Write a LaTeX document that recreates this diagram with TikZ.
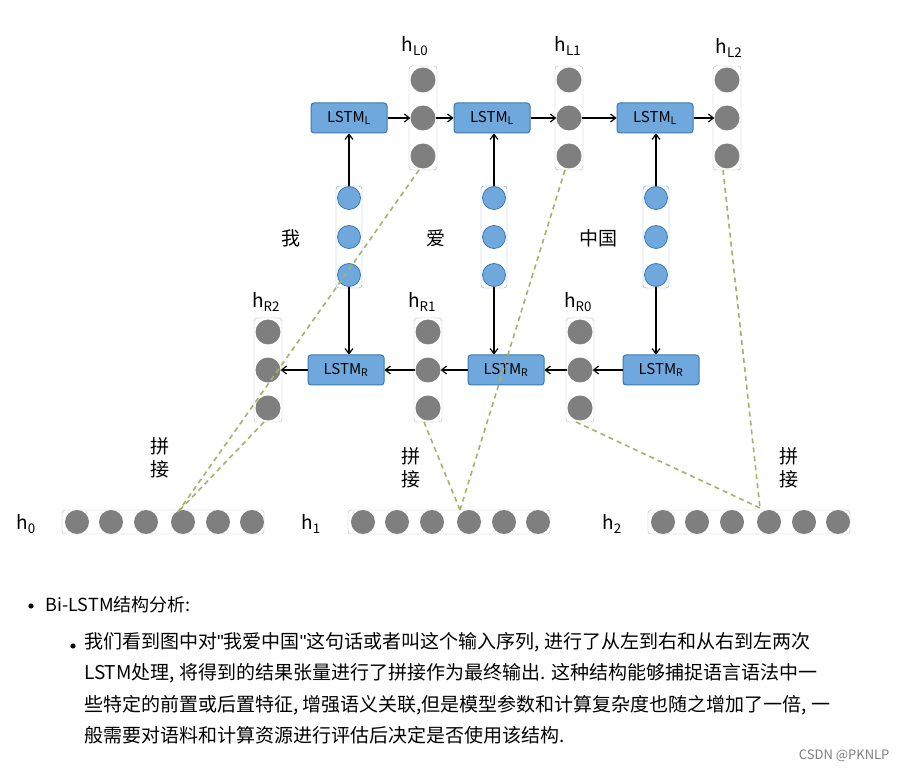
\documentclass[tikz,border=0pt]{standalone}
\usepackage{fontspec}
\setmainfont{Noto Sans CJK SC}
\newfontfamily\quotefont{Liberation Sans}
\usetikzlibrary{arrows.meta}
\definecolor{cellblue}{HTML}{6FA8DC}
\definecolor{cellline}{HTML}{3D78B0}
\definecolor{dotgray}{HTML}{7F7F7F}
\definecolor{dashgreen}{HTML}{A4B26A}
\newcommand{\dq}{{\quotefont\symbol{34}}}
\tikzset{
  lstm/.style={draw=cellline,fill=cellblue,rounded corners=3pt,line width=1pt,minimum width=76pt,minimum height=30pt,font=\fontsize{15}{15}\selectfont},
  gdot/.style={circle,fill=dotgray,minimum size=25pt,inner sep=0pt},
  bdot/.style={circle,fill=cellblue,draw=cellline,line width=0.8pt,minimum size=23pt,inner sep=0pt},
  vbox/.style={draw=gray!60,rounded corners=3pt},
  link/.style={-{Straight Barb[length=5pt,width=8pt]},line width=1.2pt},
  concat/.style={dashgreen,line width=1.6pt,dash pattern=on 5pt off 4pt},
  lab/.style={font=\fontsize{19}{19}\selectfont}
}
\begin{document}
\begin{tikzpicture}[x=1pt,y=-1pt]
	\fill[white] (0,0) rectangle (898,770);
	\useasboundingbox (0,0) rectangle (898,770);

	% vertical vectors
	\foreach \nm/\x/\y in {hlz/423/118,hlo/569/118,hlt/727/118,hrt/268/370,hro/428/370,hrz/580/370}{
		\draw[vbox] (\x-14,\y-52) rectangle (\x+14,\y+52);
		\node[gdot] (\nm a) at (\x,\y-38) {};
		\node[gdot] (\nm b) at (\x,\y) {};
		\node[gdot] (\nm c) at (\x,\y+38) {};
		\coordinate (\nm e) at (\x-4,\y+52);
	}
	\foreach \nm/\x in {wa/349,wb/494,wc/656}{
		\draw[vbox,draw=cellline!70] (\x-13,186) rectangle (\x+13,288);
		\node[bdot] (\nm a) at (\x,198) {};
		\node[bdot] (\nm b) at (\x,237) {};
		\node[bdot] (\nm c) at (\x,275) {};
	}

	% lstm cells
	\node[lstm] (la) at (349,118) {LSTM\textsubscript{L}};
	\node[lstm] (lb) at (492,118) {LSTM\textsubscript{L}};
	\node[lstm] (lc) at (655,118) {LSTM\textsubscript{L}};
	\node[lstm] (ra) at (346,370) {LSTM\textsubscript{R}};
	\node[lstm] (rb) at (506,370) {LSTM\textsubscript{R}};
	\node[lstm] (rc) at (661,370) {LSTM\textsubscript{R}};

	\draw[link] (waa) -- (waa |- la.south);
	\draw[link] (wba) -- (wba |- lb.south);
	\draw[link] (wca) -- (wca |- lc.south);
	\draw[link] (wac) -- (wac |- ra.north);
	\draw[link] (wbc) -- (wbc |- rb.north);
	\draw[link] (wcc) -- (wcc |- rc.north);
	\draw[link] (la) -- (hlzb);
	\draw[link] (hlzb) -- (lb);
	\draw[link] (lb) -- (hlob);
	\draw[link] (hlob) -- (lc);
	\draw[link] (lc) -- (hltb);
	\draw[link] (rc) -- (hrzb);
	\draw[link] (hrzb) -- (rb);
	\draw[link] (rb) -- (hrob);
	\draw[link] (hrob) -- (ra);
	\draw[link] (ra) -- (hrtb);

	% labels
	\node[lab] at (415,46) {h\textsubscript{L0}};
	\node[lab] at (568,46) {h\textsubscript{L1}};
	\node[lab] at (729,48) {h\textsubscript{L2}};
	\node[lab] at (266,302) {h\textsubscript{R2}};
	\node[lab] at (422,302) {h\textsubscript{R1}};
	\node[lab] at (578,302) {h\textsubscript{R0}};
	\node[lab] at (291,238) {我};
	\node[lab] at (436,238) {爱};
	\node[lab] at (598,238) {中国};

	% output vectors
	\foreach \nm/\x in {oa/62,ob/348,oc/648}{
		\draw[vbox] (\x,510) rectangle (\x+202,534);
		\foreach \i/\dx in {1/15,2/49,3/84,4/121,5/156,6/190}
			\node[gdot,minimum size=24pt] (\nm\i) at (\x+\dx,522) {};
	}
	\node[lab] at (26,524) {h\textsubscript{0}};
	\node[lab] at (311,524) {h\textsubscript{1}};
	\node[lab] at (612,524) {h\textsubscript{2}};

	\coordinate (ja) at (178,512);
	\coordinate (jb) at (460,510);
	\coordinate (jc) at (760,508);
	\draw[concat] (hlze) -- (ja);
	\draw[concat] (hrte) -- (ja);
	\draw[concat] (hloe) -- (jb);
	\draw[concat] (hroe) -- (jb);
	\draw[concat] (hrze) -- (jc);
	\draw[concat] (hlte) -- (jc);

	\node[lab,align=center] at (160,458) {拼\\[4pt]接};
	\node[lab,align=center] at (411,468) {拼\\[4pt]接};
	\node[lab,align=center] at (789,468) {拼\\[4pt]接};

	% text below
	\fill (31,606) circle (2.6pt);
	\node[anchor=west,font=\fontsize{18}{18}\selectfont] at (42,605) {Bi-LSTM结构分析:};
	\fill (73,646) circle (2.6pt);
	\node[anchor=north west,align=left,inner sep=0pt,font=\fontsize{19}{31.5}\selectfont] at (84,632)
		{我们看到图中对\dq 我爱中国\dq 这句话或者叫这个输入序列, 进行了从左到右和从右到左两次\\
		 LSTM处理, 将得到的结果张量进行了拼接作为最终输出. 这种结构能够捕捉语言语法中一\\
		 些特定的前置或后置特征, 增强语义关联,但是模型参数和计算复杂度也随之增加了一倍, 一\\
		 般需要对语料和计算资源进行评估后决定是否使用该结构.};
	\node[anchor=east,text=gray,font=\fontsize{13}{13}\selectfont] at (893,756) {CSDN @PKNLP};
\end{tikzpicture}
\end{document}
